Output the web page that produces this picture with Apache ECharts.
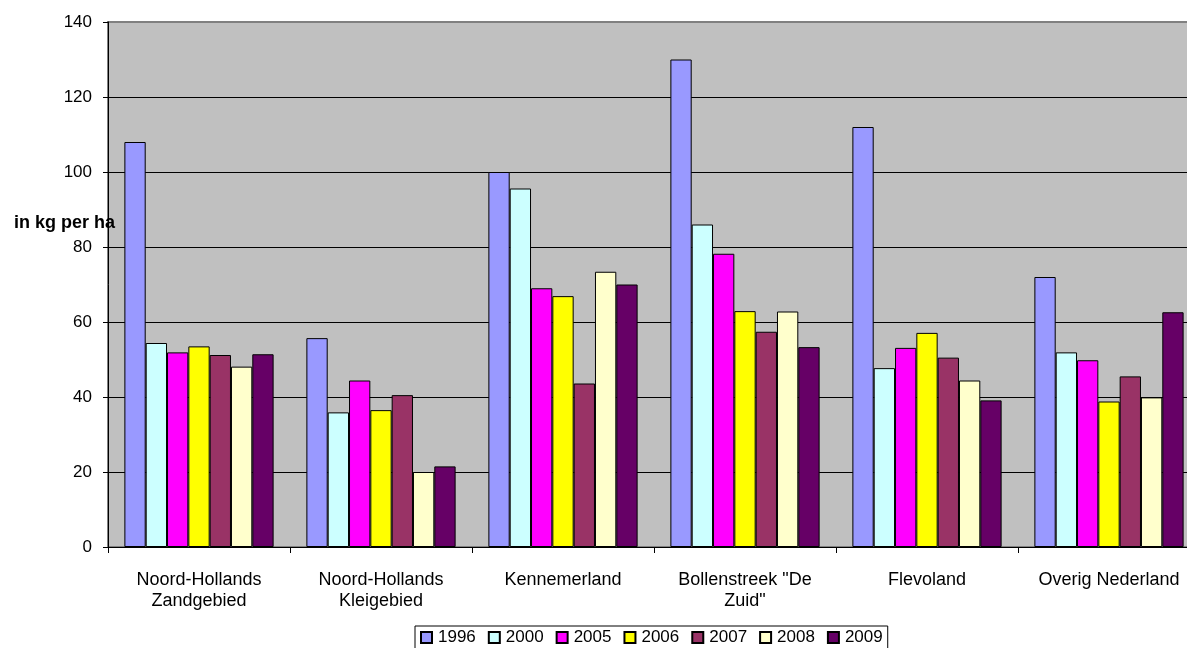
<!DOCTYPE html>
<html lang="en" style="height: 100%">
<head>
  <meta charset="utf-8">
  <title>kg per ha</title>
</head>
<body style="height: 100%; margin: 0; background: #fff">
  <div id="container" style="width: 1187px;height: 648px"></div>
  <script type="text/javascript" src="https://cdn.jsdelivr.net/npm/echarts@6/dist/echarts.min.js"></script>
  <script type="text/javascript">
    var categories = ['Noord-Hollands\nZandgebied', 'Noord-Hollands\nKleigebied', 'Kennemerland',
                      'Bollenstreek "De\nZuid"', 'Flevoland', 'Overig Nederland'];
    var years = ['1996', '2000', '2005', '2006', '2007', '2008', '2009'];
    var colors = ['#9999FF', '#CCFFFF', '#FF00FF', '#FFFF00', '#993366', '#FFFFCC', '#660066'];
    var v1996 = [108, 55.7, 100, 130, 112, 72];
    var v2000 = [54.4, 35.9, 95.6, 86, 47.7, 51.9];
    var v2005 = [51.9, 44.4, 69, 78.2, 53.1, 49.8];
    var v2006 = [53.5, 36.5, 66.9, 62.9, 57.1, 38.8];
    var v2007 = [51.2, 40.5, 43.6, 57.4, 50.5, 45.5];
    var v2008 = [48.1, 20, 73.4, 62.8, 44.4, 39.9];
    var v2009 = [51.4, 21.5, 70, 53.3, 39.1, 62.6];
    var yTicks = { min: 0, max: 140, interval: 20 };

    var values = [v1996, v2000, v2005, v2006, v2007, v2008, v2009];
    var font = 'Liberation Sans, Arial, sans-serif';

    var dom = document.getElementById('container');
    var myChart = echarts.init(dom, null, { renderer: 'canvas' });

    var series = years.map(function (y, i) {
      return {
        name: y,
        type: 'bar',
        data: values[i],
        barGap: 0,
        barCategoryGap: '18%',
        itemStyle: { color: colors[i], borderColor: '#000', borderWidth: 1 }
      };
    });

    var option = {
      animation: false,
      textStyle: { fontFamily: font },
      title: {
        text: 'in kg per ha',
        left: 9,
        top: 209,
        textStyle: { fontFamily: font, fontSize: 18, fontWeight: 'bold', color: '#000' }
      },
      grid: {
        left: 108, top: 22, width: 1092, height: 525,
        outerBoundsMode: 'none',
        show: true, backgroundColor: '#C0C0C0', borderColor: '#808080', borderWidth: 2,
        containLabel: false
      },
      legend: {
        data: years,
        icon: 'rect',
        left: 415, top: 626,
        itemWidth: 11, itemHeight: 11, itemGap: 12,
        borderColor: '#000', borderWidth: 1, padding: [3, 5, 3, 5],
        textStyle: { fontFamily: font, fontSize: 17, color: '#000', padding: [0, 0, 0, 1] }
      },
      xAxis: {
        type: 'category',
        data: categories,
        axisLine: { lineStyle: { color: '#000' } },
        axisTick: { show: true, length: 6, lineStyle: { color: '#000' } },
        axisLabel: { color: '#000', fontSize: 18, margin: 23, lineHeight: 21, interval: 0 }
      },
      yAxis: {
        type: 'value',
        min: yTicks.min, max: yTicks.max, interval: yTicks.interval,
        axisLine: { show: true, lineStyle: { color: '#000' } },
        axisTick: { show: true, length: 5, lineStyle: { color: '#000' } },
        axisLabel: { color: '#000', fontSize: 17, margin: 16 },
        splitLine: { show: true, showMaxLine: false, lineStyle: { color: '#000', width: 1 } }
      },
      series: series
    };

    myChart.setOption(option);
    window.addEventListener('resize', myChart.resize);
  </script>
</body>
</html>
